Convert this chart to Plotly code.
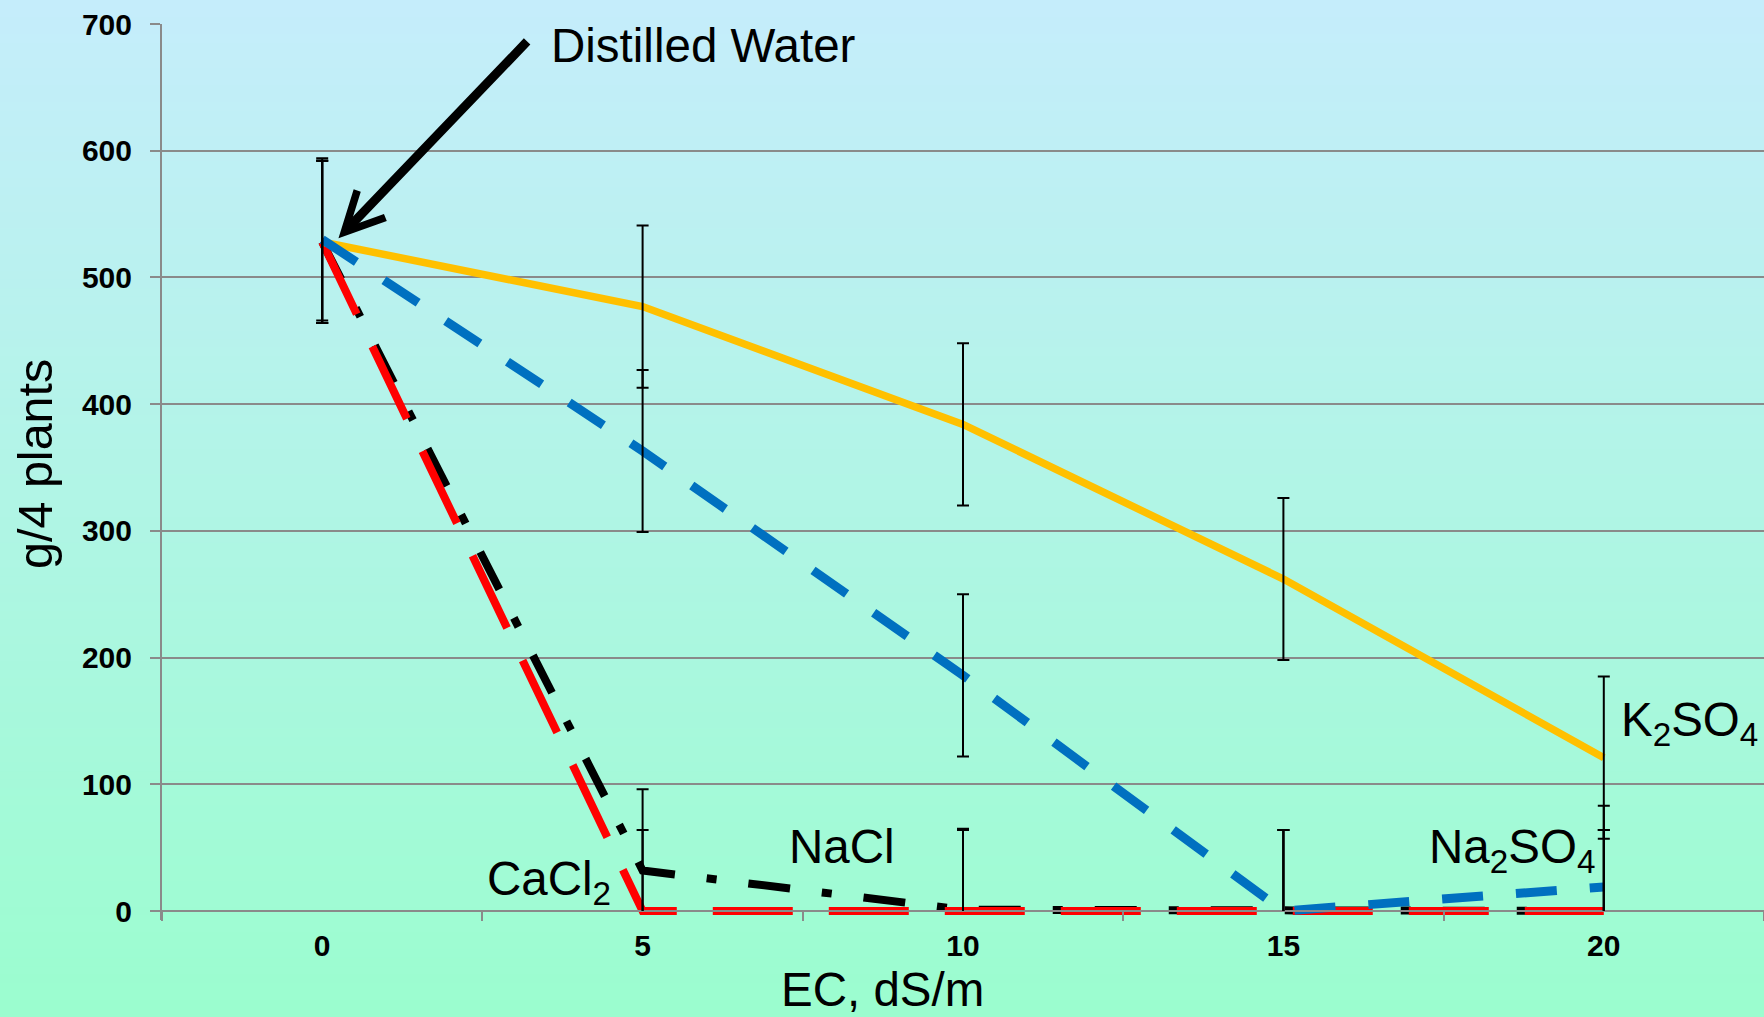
import plotly.graph_objects as go

# ---------------- data ----------------
ec = [0, 5, 10, 15, 20]
ec_labels = ["0", "5", "10", "15", "20"]

k2so4 = [528, 477, 384, 262, 121]
na2so4 = [530, 363, 186, 0, 19]
cacl2 = [528, 0, 0, 0, 0]
nacl = [528, 32, 1, 0, 0]

k2so4_err = [64, 64, 64, 64, 64]
na2so4_err = [64, 64, 64, 64, 64]
cacl2_err = [64, 64, 64, 64, 64]
nacl_err = [64, 64, 64, 64, 64]

y_ticks = [0, 100, 200, 300, 400, 500, 600, 700]
x_boundaries = [-2.5, 2.5, 7.5, 12.5, 17.5, 22.5]

# ---------------- style ----------------
W, H = 1764, 1017
EXTRA = 9                      # px of room below the zero line so lines at 0 are not clipped
ML, MR, MT, MB = 162, 0, 24, 106 - EXTRA
PW, PH = W - ML - MR, H - MT - MB
YMIN = -EXTRA * 700 / 887
ZERO_FRAC = EXTRA / PH
FONT = "Liberation Sans, Arial, sans-serif"
GRID = "#8a8a8a"
TOP = (197, 237, 251)
BOT = (155, 253, 207)

fig = go.Figure()

series = [
    ("NaCl", nacl, nacl_err, "#000000", 8, "42px,32px,10px,32px"),
    ("CaCl2", cacl2, cacl2_err, "#FF0000", 8, "80px,36px"),
    ("K2SO4", k2so4, k2so4_err, "#FFC000", 7.5, "solid"),
    ("Na2SO4", na2so4, na2so4_err, "#0070C0", 9, "41px,33px"),
]

for name, ys, err, color, w, dash in series:
    fig.add_trace(go.Scatter(
        x=ec, y=ys, mode="lines", name=name,
        line=dict(color=color, width=w, dash=dash),
        showlegend=False, hoverinfo="skip",
    ))

for name, ys, err, color, w, dash in series:
    fig.add_trace(go.Scatter(
        x=ec, y=ys, mode="markers", name=name + " error",
        xaxis="x", yaxis="y2",
        marker=dict(size=1, opacity=0),
        error_y=dict(type="data", array=err, color="#000000", thickness=2, width=6),
        showlegend=False, hoverinfo="skip",
    ))

# background gradient bands
shapes = []
n = 120
for i in range(n):
    t = i / (n - 1)
    c = tuple(round(TOP[k] + (BOT[k] - TOP[k]) * t) for k in range(3))
    py0 = H * i / n
    py1 = H * (i + 1) / n + 1
    shapes.append(dict(
        type="rect", xref="paper", yref="paper", layer="below",
        x0=-ML / PW - 0.01, x1=1.01,
        y0=(H - MB - py1) / PH, y1=(H - MB - py0) / PH,
        fillcolor="rgb(%d,%d,%d)" % c, line=dict(width=0),
    ))

lab_font = dict(family=FONT, size=47.5, color="#000000")
annotations = [
    dict(x=3.54, y=682.7, xref="x", yref="y", text="Distilled Water",
         showarrow=False, xanchor="left", yanchor="middle", font=lab_font),
    dict(x=0.254, y=530.9, ax=3.22, ay=687.4, xref="x", yref="y",
         axref="x", ayref="y", text="", showarrow=True, arrowhead=5,
         arrowsize=0.85, arrowwidth=9, arrowcolor="#000000"),
    dict(x=7.26, y=50.7, xref="x", yref="y", text="NaCl",
         showarrow=False, xanchor="left", yanchor="middle", font=lab_font),
    dict(x=2.536, y=23, xref="x", yref="y", text="CaCl<sub>2</sub>",
         showarrow=False, xanchor="left", yanchor="middle", font=lab_font),
    dict(x=17.24, y=48, xref="x", yref="y", text="Na<sub>2</sub>SO<sub>4</sub>",
         showarrow=False, xanchor="left", yanchor="middle", font=lab_font),
    dict(x=20.24, y=148.5, xref="x", yref="y", text="K<sub>2</sub>SO<sub>4</sub>",
         showarrow=False, xanchor="left", yanchor="middle", font=lab_font),
    dict(x=(35 - ML) / PW, y=(H - MB - 464) / PH, xref="paper", yref="paper",
         text="g/4 plants", textangle=-90, showarrow=False,
         xanchor="center", yanchor="middle",
         font=dict(family=FONT, size=48.5, color="#000000")),
    dict(x=(882 - ML) / PW, y=(H - MB - 1017) / PH, xref="paper", yref="paper",
         text="EC, dS/m", showarrow=False,
         xanchor="center", yanchor="bottom", borderpad=0,
         font=dict(family=FONT, size=47.5, color="#000000")),
]

fig.update_layout(
    width=W, height=H,
    margin=dict(l=ML, r=MR, t=MT, b=MB, pad=0),
    paper_bgcolor="rgb(178,245,228)",
    plot_bgcolor="rgba(0,0,0,0)",
    shapes=shapes,
    annotations=annotations,
    xaxis=dict(
        range=[-2.5, 22.5], tickmode="array", tickvals=ec, ticktext=ec_labels,
        anchor="free", position=ZERO_FRAC,
        ticks="outside", ticklen=9, tickcolor="rgba(0,0,0,0)",
        ticklabelstandoff=-1,
        tickfont=dict(family=FONT, size=30, color="#000000", weight="bold"),
        showgrid=False, zeroline=False,
        showline=True, linecolor=GRID, linewidth=2,
        minor=dict(tickmode="array", tickvals=x_boundaries, ticks="outside",
                   ticklen=9, tickcolor=GRID, tickwidth=2, showgrid=False),
    ),
    yaxis=dict(
        range=[YMIN, 700], tickmode="array", tickvals=y_ticks,
        ticks="outside", ticklen=10, tickcolor=GRID, tickwidth=2,
        ticklabelstandoff=12,
        tickfont=dict(family=FONT, size=30, color="#000000", weight="bold"),
        showgrid=True, gridcolor=GRID, gridwidth=2, zeroline=False,
        showline=True, linecolor=GRID, linewidth=2,
    ),
    yaxis2=dict(
        range=[0, 700], domain=[ZERO_FRAC, 1], anchor="x",
        visible=False, showgrid=False, zeroline=False,
    ),
)

fig.write_html("out.html")
